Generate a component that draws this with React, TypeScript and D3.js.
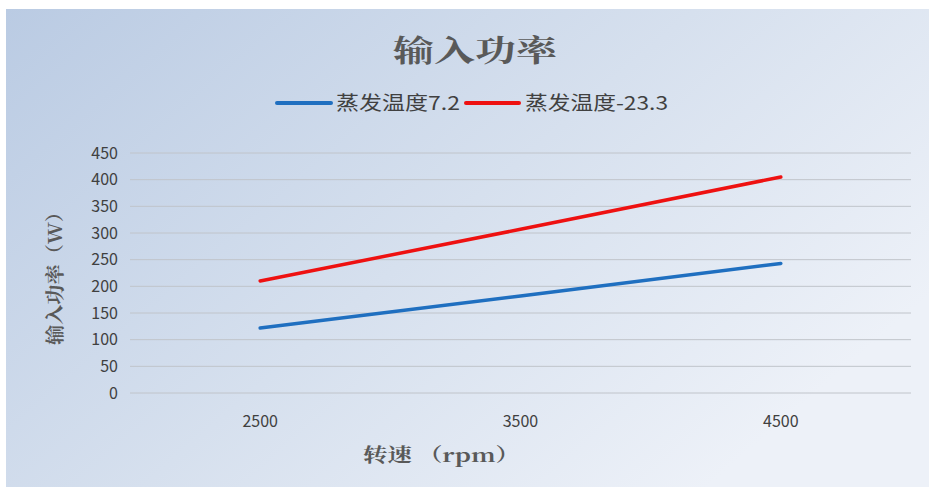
import * as d3 from "d3";
import React from "react";

const categories = ["2500", "3500", "4500"];
const seriesNames = ["蒸发温度7.2", "蒸发温度-23.3"];
const seriesColors = ["#1f6fc0", "#ee1111"];
const blueValues = [122, 182, 243];
const redValues = [210, 307, 405];
const yTicks = [0, 50, 100, 150, 200, 250, 300, 350, 400, 450];

const W = 929;
const H = 488;
const plot = { left: 130, right: 911, top: 153, bottom: 393 };

export default function App() {
  const x = d3
    .scalePoint<string>()
    .domain(categories)
    .range([plot.left, plot.right])
    .padding(0.5);
  const y = d3.scaleLinear().domain([0, 450]).range([plot.bottom, plot.top]);

  const line = d3
    .line<number>()
    .x((_, i) => x(categories[i]) as number)
    .y((d) => y(d));

  const series = [blueValues, redValues];
  const font = "'Microsoft YaHei', 'Noto Sans CJK SC', sans-serif";
  const serif = "'SimSun', 'Noto Serif CJK SC', 'Noto Sans CJK SC', serif";

  return (
    <svg
      width={W}
      height={H}
      style={{ position: "absolute", left: 0, top: 0 }}
    >
      <defs>
        <linearGradient id="bg" x1="0" y1="0" x2="1" y2="0.6">
          <stop offset="0%" stopColor="#bacbe3" />
          <stop offset="55%" stopColor="#d6e0ee" />
          <stop offset="100%" stopColor="#edf1f8" />
        </linearGradient>
      </defs>
      <rect x={0} y={0} width={W} height={H} fill="#ffffff" />
      <rect x={6} y={9} width={W - 6} height={H - 10} fill="url(#bg)" />

      {yTicks.map((t) => (
        <g key={t}>
          <line
            x1={plot.left}
            x2={plot.right}
            y1={y(t)}
            y2={y(t)}
            stroke="#c0c4ca"
            strokeWidth={1}
          />
          <text
            x={118}
            y={y(t)}
            dy="0.36em"
            textAnchor="end"
            fontSize={16}
            fill="#404040"
            fontFamily={font}
          >
            {t}
          </text>
        </g>
      ))}

      {categories.map((c) => (
        <text
          key={c}
          x={x(c)}
          y={427}
          textAnchor="middle"
          fontSize={16}
          fill="#404040"
          fontFamily={font}
        >
          {c}
        </text>
      ))}

      {series.map((s, i) => (
        <path
          key={i}
          d={line(s) as string}
          fill="none"
          stroke={seriesColors[i]}
          strokeWidth={3.5}
          strokeLinecap="round"
        />
      ))}

      <text
        x={393}
        y={61}
        fontSize={30}
        fontWeight="bold"
        fill="#595959"
        fontFamily={serif}
        textLength={164}
        lengthAdjust="spacingAndGlyphs"
      >
        输入功率
      </text>

      {/* legend */}
      <line x1={277} x2={331} y1={103} y2={103} stroke={seriesColors[0]} strokeWidth={4} strokeLinecap="round" />
      <text
        x={336}
        y={103}
        dy="0.36em"
        fontSize={19}
        fill="#404040"
        fontFamily={font}
        textLength={124}
        lengthAdjust="spacingAndGlyphs"
      >
        {seriesNames[0]}
      </text>
      <line x1={466} x2={519} y1={103} y2={103} stroke={seriesColors[1]} strokeWidth={4} strokeLinecap="round" />
      <text
        x={525}
        y={103}
        dy="0.36em"
        fontSize={19}
        fill="#404040"
        fontFamily={font}
        textLength={143}
        lengthAdjust="spacingAndGlyphs"
      >
        {seriesNames[1]}
      </text>

      <text
        x={363}
        y={462}
        fontSize={19}
        fontWeight="bold"
        fill="#595959"
        fontFamily={serif}
        textLength={157}
        lengthAdjust="spacingAndGlyphs"
      >
        转速 （rpm）
      </text>
      <text
        transform={`translate(62, 345) rotate(-90)`}
        fontSize={19}
        fontWeight="bold"
        fill="#595959"
        fontFamily={serif}
        textLength={143}
        lengthAdjust="spacingAndGlyphs"
      >
        输入功率（W）
      </text>
    </svg>
  );
}
